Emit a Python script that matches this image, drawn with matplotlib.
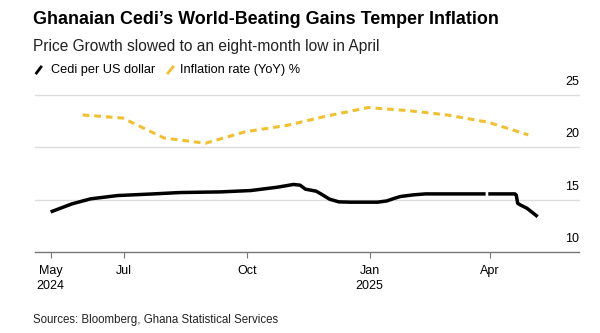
import numpy as np
import pandas as pd
import matplotlib
matplotlib.use("Agg")
import matplotlib.pyplot as plt

# Cedi per US dollar
cedi_dates = ["2024-05-07", "2024-05-23", "2024-06-06", "2024-06-26", "2024-07-23",
              "2024-08-12", "2024-09-11", "2024-10-04", "2024-10-24", "2024-11-05",
              "2024-11-10", "2024-11-14", "2024-11-22", "2024-11-26", "2024-12-02",
              "2024-12-09", "2024-12-18", "2025-01-07", "2025-01-14", "2025-01-19",
              "2025-01-24", "2025-02-03", "2025-02-12", "2025-03-29", "2025-03-30",
              "2025-03-31", "2025-04-20", "2025-04-21", "2025-04-22", "2025-04-24",
              "2025-04-29", "2025-05-07"]
cedi_values = [13.85, 14.62, 15.10, 15.41, 15.57,
               15.70, 15.76, 15.89, 16.21, 16.47,
               16.40, 16.02, 15.83, 15.54, 15.07,
               14.81, 14.78, 14.78, 14.90, 15.12,
               15.32, 15.48, 15.57, 15.57, np.nan,
               15.57, 15.57, 15.45, 14.68, 14.52,
               14.20, 13.40]

# Inflation rate (YoY) %, month ends
infl_dates = ["2024-05-31", "2024-06-30", "2024-07-31", "2024-08-31", "2024-09-30",
              "2024-10-31", "2024-11-30", "2024-12-31", "2025-01-31", "2025-02-28",
              "2025-03-31", "2025-04-30"]
infl_values = [23.1, 22.8, 20.9, 20.4, 21.5, 22.1, 23.0, 23.8, 23.5, 23.1, 22.4, 21.2]

tick_dates = ["2024-05-07", "2024-07-01", "2024-10-01", "2025-01-01", "2025-04-01"]
tick_labels = ["May\n2024", "Jul", "Oct", "Jan\n2025", "Apr"]
y_ticks = [10, 15, 20, 25]

plt.rcParams["font.family"] = ["Liberation Sans", "DejaVu Sans"]

fig = plt.figure(figsize=(6, 3.33), dpi=100)
ax = fig.add_axes([0.0577, 0.2423, 0.9073, 0.4724])

yellow = "#F0C02E"
ax.plot(pd.to_datetime(infl_dates), infl_values, color=yellow, lw=2.2,
        dashes=(2.2, 1.6), solid_capstyle="butt", zorder=3, clip_on=False)
ax.plot(pd.to_datetime(cedi_dates), cedi_values, color="black", lw=2.5,
        solid_capstyle="butt", zorder=4)

ax.set_ylim(10, 25)
ax.set_xlim(pd.Timestamp("2024-04-25"), pd.Timestamp("2025-06-07"))

for v in y_ticks[1:]:
    ax.axhline(v, color="#dcdcdc", lw=1.0, zorder=1, clip_on=False)
for v in y_ticks:
    ax.text(1.0, v + 0.7, str(v), transform=ax.get_yaxis_transform(),
            ha="right", va="bottom", fontsize=9, color="black")

for s in ["top", "right", "left"]:
    ax.spines[s].set_visible(False)
ax.spines["bottom"].set_color("#777777")
ax.spines["bottom"].set_linewidth(1.0)
ax.set_yticks([])
ax.set_xticks(pd.to_datetime(tick_dates))
ax.set_xticklabels(tick_labels, fontsize=9, linespacing=1.3)
ax.tick_params(axis="x", length=4, width=0.8, color="#777777", pad=5)

fig.text(0.055, 0.94, "Ghanaian Cedi\u2019s World-Beating Gains Temper Inflation",
         fontsize=12.9, fontweight="bold", va="center")
fig.text(0.055, 0.86, "Price Growth slowed to an eight-month low in April",
         fontsize=11.2, va="center", color="#222222")

# legend row
fig.lines.append(plt.Line2D([36.5 / 600, 41 / 600], [1 - 73 / 333, 1 - 67 / 333],
                            transform=fig.transFigure, color="black", lw=2))
fig.text(51 / 600, 1 - 70 / 333, "Cedi per US dollar", fontsize=9.2, va="center")
fig.lines.append(plt.Line2D([168 / 600, 173 / 600], [1 - 73 / 333, 1 - 67 / 333],
                            transform=fig.transFigure, color=yellow, lw=2))
fig.text(180 / 600, 1 - 70 / 333, "Inflation rate (YoY) %", fontsize=9.2, va="center")

fig.text(0.055, 1 - 320 / 333, "Sources: Bloomberg, Ghana Statistical Services",
         fontsize=8.3, va="center", color="#222222")

fig.savefig("out.png", dpi=100)
